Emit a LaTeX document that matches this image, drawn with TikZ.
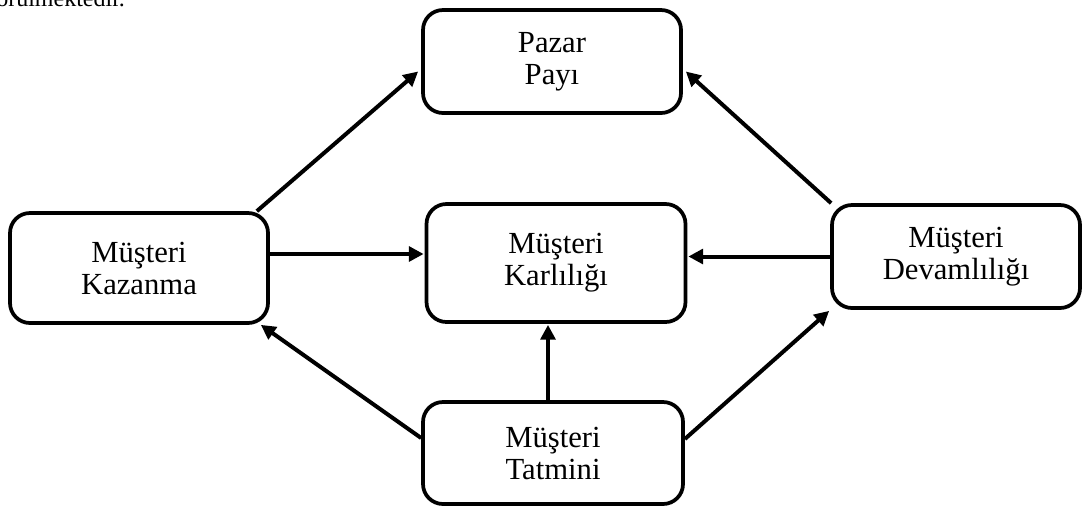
\documentclass[tikz,border=0pt]{standalone}
\usepackage{fontspec}
\setmainfont{Liberation Serif}
\usetikzlibrary{arrows.meta,calc}
\begin{document}
\begin{tikzpicture}[x=0.75pt,y=-0.75pt,
  box/.style={draw, line width=2.8pt, rounded corners=15pt, align=center,
    font=\fontsize{23}{24}\selectfont, inner sep=0pt},
  arr/.style={line width=3pt, -{Triangle[length=11pt,width=11pt]}},
  bodytext/.style={font=\fontsize{18}{20}\selectfont, inner sep=0pt}]
\useasboundingbox (0,0) rectangle (1084,507);
\clip (0,0) rectangle (1084,507);

\node[bodytext, anchor=base west] (top) at (-4,6.5) {örülmektedir.};

\node[box, minimum width=193.5pt, minimum height=77.25pt] (pazar) at (552,61.5) {Pazar\\Payı};
\node[box, minimum width=193.5pt, minimum height=82.5pt] (kaz) at (139,268) {Müşteri\\Kazanma};
\node[box, minimum width=194.25pt, minimum height=88.5pt] (karl) at (556,263) {Müşteri\\Karlılığı};
\node[box, minimum width=186pt, minimum height=77.25pt] (devam) at (956,256.5) {Müşteri\\Devamlılığı};
\node[box, minimum width=195pt, minimum height=76.5pt] (tat) at (553,453) {Müşteri\\Tatmini};

% connectors
\draw[arr] ($(kaz.north east)+(-13,0)$) -- ($(pazar.west)+(-3,10)$);
\draw[arr] ($(devam.north west)+(1,0)$) -- ($(pazar.east)+(3,10)$);

\coordinate (k1) at ($(kaz.east)+(0,-14)$);
\draw[arr] (k1) -- ($(k1 -| karl.west)+(-1,0)$);
\draw[arr] (devam.west) -- ($(devam.west -| karl.east)+(1,0)$);

\coordinate (t1) at ($(tat.north)+(-5,0)$);
\draw[arr] (t1) -- ($(t1 |- karl.south)+(0,1)$);

\draw[arr] ($(tat.west)+(0,-15)$) -- ($(kaz.south east)+(-9,0)$);
\draw[arr] ($(tat.east)+(0,-14)$) -- ($(devam.south west)+(-1,1)$);
\end{tikzpicture}
\end{document}
